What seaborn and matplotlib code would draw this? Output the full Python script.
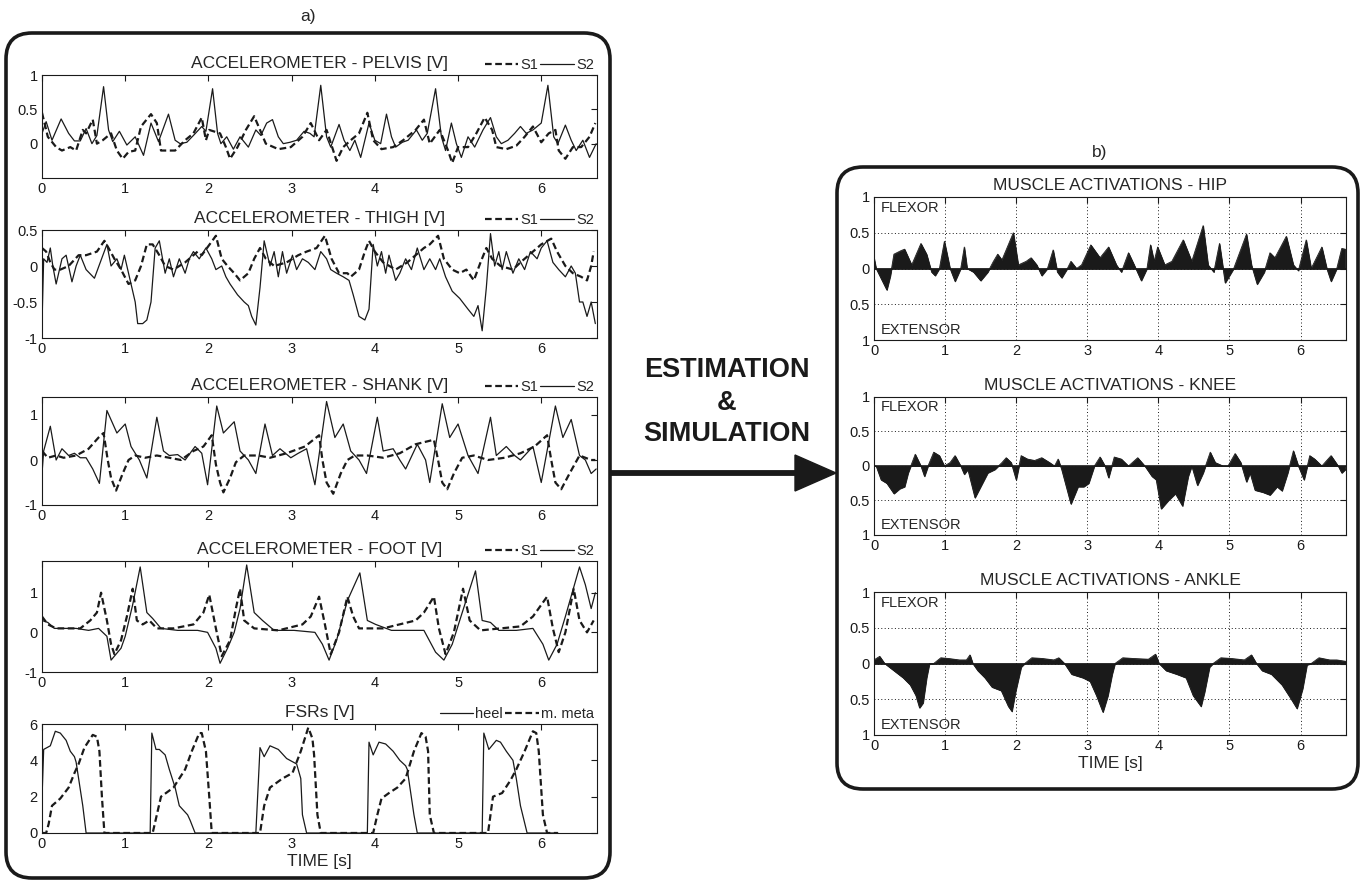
import numpy as np
import pandas as pd
import matplotlib
matplotlib.use("Agg")
import matplotlib.pyplot as plt
import seaborn as sns
from matplotlib.patches import FancyBboxPatch, Polygon
from matplotlib.lines import Line2D
from matplotlib.transforms import IdentityTransform

sns.set_theme(style="white")
plt.rcParams['font.family'] = ['Liberation Sans', 'DejaVu Sans']

# ---------------- data (time [s], value) ----------------
pelvis_s1 = [(0.0,0.45),(0.07,0.1),(0.17,-0.05),(0.24,-0.1),(0.34,-0.05),(0.41,-0.1),(0.49,0.2),(0.53,0.15),
             (0.61,0.35),(0.66,0.0),(0.73,0.05),(0.83,0.15),(0.9,-0.1),(0.97,-0.22),(1.04,-0.12),(1.12,-0.1),
             (1.19,0.25),(1.31,0.43),(1.38,0.3),(1.43,-0.1),(1.5,-0.1),(1.6,-0.1),(1.72,0.05),(1.82,0.15),
             (1.92,0.38),(1.97,0.05),(2.01,0.2),(2.14,0.15),(2.21,-0.05),(2.26,-0.22),(2.35,-0.05),(2.45,0.2),
             (2.55,0.4),(2.62,0.2),(2.69,0.0),(2.84,-0.08),(2.99,-0.05),(3.13,0.1),(3.23,0.3),(3.33,0.05),
             (3.42,0.2),(3.5,-0.1),(3.54,-0.25),(3.62,-0.05),(3.71,0.05),(3.81,0.15),(3.91,0.45),(3.98,0.05),
             (4.08,-0.08),(4.22,-0.05),(4.34,0.05),(4.49,0.2),(4.59,0.35),(4.66,0.0),(4.78,0.2),(4.88,-0.1),
             (4.93,-0.28),(5.0,-0.05),(5.12,-0.05),(5.22,0.15),(5.32,0.38),(5.41,0.2),(5.46,-0.05),(5.58,-0.08),
             (5.7,-0.03),(5.8,0.1),(5.9,0.25),(6.0,0.02),(6.09,0.15),(6.17,0.2),(6.21,-0.1),(6.29,-0.22),
             (6.38,-0.05),(6.48,-0.05),(6.58,0.1),(6.65,0.3)]
pelvis_s2 = [(0.0,0.15),(0.05,0.32),(0.12,0.05),(0.23,0.36),(0.32,0.15),(0.39,0.04),(0.46,0.04),(0.53,0.22),
             (0.6,0.0),(0.66,0.12),(0.74,0.83),(0.8,0.2),(0.85,0.03),(0.93,0.18),(1.02,-0.02),(1.12,0.1),
             (1.22,-0.17),(1.31,0.3),(1.4,0.03),(1.52,0.43),(1.6,0.05),(1.66,0.0),(1.74,0.02),(1.82,0.12),
             (1.92,0.25),(1.97,0.18),(2.05,0.8),(2.11,0.15),(2.15,0.0),(2.22,0.1),(2.3,-0.08),(2.38,0.1),
             (2.48,-0.05),(2.57,0.2),(2.63,0.12),(2.7,0.3),(2.77,0.35),(2.84,0.1),(2.9,0.0),(2.98,0.02),
             (3.06,0.05),(3.15,0.18),(3.22,0.15),(3.27,0.1),(3.35,0.85),(3.42,0.1),(3.47,-0.05),(3.57,0.28),
             (3.63,0.05),(3.7,-0.1),(3.76,0.05),(3.83,-0.2),(3.93,0.3),(4.0,0.05),(4.07,0.0),(4.14,0.43),
             (4.2,0.1),(4.25,-0.05),(4.33,0.02),(4.4,0.05),(4.5,0.2),(4.57,0.05),(4.63,0.15),(4.73,0.8),
             (4.8,0.1),(4.85,-0.1),(4.92,0.3),(4.98,0.0),(5.04,-0.2),(5.12,0.1),(5.2,-0.05),(5.3,0.2),
             (5.39,0.38),(5.46,0.1),(5.52,0.0),(5.6,0.05),(5.68,0.15),(5.75,0.25),(5.82,0.15),(5.9,0.2),
             (6.0,0.3),(6.08,0.85),(6.15,0.1),(6.2,0.0),(6.29,0.27),(6.36,0.05),(6.42,-0.1),(6.5,0.05),
             (6.58,-0.2),(6.66,0.0)]
thigh_s1 = [(0.0,0.25),(0.05,0.2),(0.1,0.05),(0.15,-0.05),(0.22,-0.05),(0.32,0.0),(0.44,0.15),(0.53,0.15),
            (0.66,0.2),(0.75,0.35),(0.8,0.25),(0.87,0.1),(0.95,-0.05),(1.04,-0.25),(1.12,-0.2),(1.19,0.0),
            (1.26,0.3),(1.33,0.3),(1.41,0.15),(1.48,0.0),(1.58,-0.05),(1.72,0.05),(1.87,0.2),(1.92,0.15),
            (2.09,0.42),(2.16,0.1),(2.23,0.0),(2.31,-0.1),(2.38,-0.2),(2.48,-0.1),(2.55,0.1),(2.62,0.25),
            (2.69,0.1),(2.79,0.0),(2.94,0.05),(3.08,0.15),(3.18,0.2),(3.3,0.25),(3.4,0.42),(3.48,0.1),
            (3.57,-0.1),(3.67,-0.1),(3.71,-0.15),(3.81,-0.05),(3.88,0.2),(3.93,0.35),(4.0,0.2),(4.1,0.05),
            (4.25,-0.05),(4.39,0.05),(4.49,0.15),(4.59,0.25),(4.66,0.3),(4.76,0.42),(4.83,0.1),(4.93,-0.05),
            (5.02,-0.1),(5.1,-0.05),(5.19,-0.2),(5.27,0.05),(5.34,0.25),(5.41,0.1),(5.51,0.0),(5.66,-0.05),
            (5.75,0.05),(5.9,0.2),(6.0,0.3),(6.12,0.38),(6.19,0.2),(6.29,0.0),(6.38,-0.1),(6.48,-0.15),
            (6.55,-0.2),(6.6,0.0),(6.63,0.2)]
thigh_s2 = [(0.0,-0.8),(0.02,0.1),(0.06,0.05),(0.1,0.25),(0.13,0.0),(0.17,-0.25),(0.24,0.1),(0.29,0.15),
            (0.36,-0.22),(0.41,0.0),(0.46,0.15),(0.53,-0.05),(0.63,-0.17),(0.7,0.05),(0.78,0.3),(0.83,0.0),
            (0.9,0.1),(0.95,-0.05),(0.99,0.15),(1.04,-0.1),(1.12,-0.5),(1.15,-0.8),(1.21,-0.8),(1.26,-0.75),
            (1.31,-0.5),(1.36,0.25),(1.41,0.35),(1.48,-0.1),(1.53,0.1),(1.58,-0.15),(1.65,0.1),(1.72,-0.1),
            (1.77,0.1),(1.82,0.2),(1.89,0.1),(1.97,0.25),(2.04,0.1),(2.09,-0.05),(2.16,0.0),(2.21,-0.15),
            (2.26,-0.25),(2.35,-0.4),(2.43,-0.5),(2.48,-0.55),(2.52,-0.7),(2.57,-0.82),(2.62,-0.3),(2.67,0.35),
            (2.74,0.0),(2.79,0.2),(2.84,-0.15),(2.89,0.2),(2.94,-0.1),(3.01,0.15),(3.06,-0.05),(3.13,0.1),
            (3.2,0.05),(3.28,-0.05),(3.35,0.2),(3.42,0.1),(3.47,-0.05),(3.54,-0.1),(3.62,-0.15),(3.69,-0.2),
            (3.74,-0.4),(3.81,-0.7),(3.88,-0.75),(3.93,-0.6),(3.98,0.3),(4.03,0.0),(4.08,0.2),(4.13,-0.1),
            (4.17,0.15),(4.25,-0.2),(4.3,-0.1),(4.37,0.1),(4.44,-0.05),(4.51,0.25),(4.59,-0.05),(4.66,0.1),
            (4.73,-0.05),(4.78,0.1),(4.85,-0.15),(4.93,-0.35),(5.02,-0.45),(5.12,-0.6),(5.19,-0.7),(5.24,-0.55),
            (5.29,-0.9),(5.34,-0.3),(5.39,0.45),(5.44,0.0),(5.49,0.2),(5.53,-0.05),(5.58,0.2),(5.66,-0.1),
            (5.73,0.1),(5.8,-0.05),(5.87,0.2),(5.95,0.1),(6.0,0.25),(6.07,0.35),(6.14,0.05),(6.21,-0.05),
            (6.29,-0.15),(6.36,0.0),(6.41,-0.1),(6.46,-0.5),(6.5,-0.5),(6.55,-0.7),(6.6,-0.5),(6.65,-0.8)]
shank_s1 = [(0.0,0.2),(0.07,0.05),(0.17,0.1),(0.26,0.05),(0.41,0.1),(0.56,0.25),(0.68,0.5),(0.74,0.6),
            (0.79,0.0),(0.83,-0.4),(0.89,-0.68),(0.97,-0.3),(1.04,0.0),(1.12,0.1),(1.24,0.05),(1.38,0.1),
            (1.53,0.05),(1.67,0.0),(1.82,0.2),(1.94,0.3),(2.04,0.55),(2.09,-0.1),(2.14,-0.5),(2.18,-0.72),
            (2.26,-0.4),(2.33,-0.05),(2.43,0.1),(2.6,0.1),(2.74,0.05),(2.94,0.15),(3.16,0.3),(3.33,0.55),
            (3.37,0.0),(3.42,-0.5),(3.5,-0.75),(3.59,-0.3),(3.67,0.0),(3.76,0.1),(3.91,0.1),(4.1,0.05),
            (4.3,0.15),(4.49,0.35),(4.71,0.45),(4.76,0.0),(4.81,-0.5),(4.87,-0.65),(4.95,-0.3),(5.05,0.05),
            (5.19,0.1),(5.36,0.0),(5.56,0.05),(5.75,0.15),(5.92,0.3),(6.07,0.55),(6.12,0.0),(6.17,-0.5),
            (6.24,-0.65),(6.34,-0.3),(6.46,0.1),(6.53,0.05),(6.6,0.0),(6.65,0.0)]
shank_s2 = [(0.0,-0.3),(0.02,0.2),(0.1,0.75),(0.17,0.0),(0.24,0.25),(0.32,0.1),(0.39,0.15),(0.46,0.05),
            (0.53,0.05),(0.61,-0.2),(0.69,-0.52),(0.78,1.1),(0.9,0.6),(1.0,0.8),(1.07,0.3),(1.17,0.0),
            (1.26,-0.4),(1.38,0.95),(1.46,0.2),(1.53,0.1),(1.63,0.12),(1.72,0.0),(1.84,0.3),(1.92,0.15),
            (1.99,-0.55),(2.1,1.2),(2.18,0.6),(2.31,0.85),(2.38,0.2),(2.48,0.0),(2.57,-0.3),(2.68,0.8),
            (2.77,0.1),(2.86,0.25),(2.99,0.05),(3.08,0.15),(3.18,0.25),(3.28,-0.55),(3.42,1.3),(3.52,0.5),
            (3.62,0.8),(3.71,0.2),(3.81,0.0),(3.9,-0.3),(4.03,0.95),(4.1,0.2),(4.22,0.25),(4.3,0.0),
            (4.37,-0.2),(4.51,0.35),(4.61,0.0),(4.66,-0.5),(4.81,1.25),(4.9,0.5),(5.0,0.8),(5.12,0.1),
            (5.24,-0.3),(5.39,0.95),(5.46,0.1),(5.58,0.3),(5.68,0.1),(5.75,0.0),(5.9,0.3),(6.0,-0.5),
            (6.17,1.2),(6.26,0.5),(6.36,0.9),(6.46,0.1),(6.53,0.0),(6.6,-0.3),(6.66,-0.2)]
foot_s1 = [(0.0,0.4),(0.07,0.2),(0.17,0.1),(0.32,0.1),(0.46,0.1),(0.58,0.3),(0.66,0.5),(0.71,1.0),
           (0.78,0.3),(0.83,-0.3),(0.87,-0.55),(0.95,-0.2),(1.02,0.4),(1.09,1.1),(1.14,0.3),(1.21,0.2),
           (1.29,0.3),(1.38,0.1),(1.58,0.1),(1.82,0.2),(1.94,0.5),(2.01,0.95),(2.09,0.1),(2.16,-0.6),
           (2.26,-0.2),(2.33,0.6),(2.38,1.1),(2.43,0.3),(2.55,0.1),(2.84,0.05),(3.13,0.2),(3.23,0.4),
           (3.33,0.9),(3.4,0.2),(3.47,-0.55),(3.57,0.0),(3.67,0.9),(3.74,0.4),(3.81,0.1),(4.1,0.1),
           (4.49,0.3),(4.59,0.5),(4.71,0.9),(4.77,0.1),(4.85,-0.55),(4.95,0.0),(5.06,1.1),(5.14,0.3),
           (5.27,0.05),(5.51,0.1),(5.75,0.15),(5.9,0.4),(6.07,0.9),(6.14,0.1),(6.21,-0.5),(6.29,0.0),
           (6.39,1.1),(6.46,0.3),(6.55,0.0),(6.63,0.3)]
foot_s2 = [(0.0,0.3),(0.07,0.25),(0.15,0.1),(0.27,0.1),(0.41,0.1),(0.56,0.05),(0.68,0.1),(0.78,-0.1),
           (0.83,-0.7),(0.95,-0.4),(1.0,-0.1),(1.09,0.7),(1.18,1.65),(1.26,0.5),(1.33,0.35),(1.43,0.1),
           (1.63,0.05),(1.87,0.05),(1.99,0.0),(2.09,-0.4),(2.14,-0.78),(2.23,-0.4),(2.31,0.0),(2.38,0.6),
           (2.46,1.7),(2.55,0.5),(2.65,0.3),(2.79,0.05),(3.03,0.05),(3.28,0.0),(3.37,-0.3),(3.45,-0.7),
           (3.54,-0.2),(3.67,0.8),(3.82,1.5),(3.91,0.3),(4.01,0.2),(4.2,0.05),(4.44,0.05),(4.59,0.05),
           (4.73,-0.5),(4.83,-0.7),(4.93,-0.3),(5.02,0.3),(5.21,1.55),(5.29,0.3),(5.39,0.25),(5.49,0.05),
           (5.7,0.05),(5.9,0.1),(6.02,-0.3),(6.09,-0.7),(6.19,-0.3),(6.29,0.4),(6.46,1.65),(6.53,1.2),
           (6.6,0.6),(6.65,1.0)]
fsr_heel = [(0.0,1.9),(0.02,4.6),(0.1,4.8),(0.16,5.6),(0.22,5.5),(0.29,5.1),(0.34,4.5),(0.39,4.2),
            (0.41,3.9),(0.44,3.0),(0.49,1.5),(0.53,0.0),(1.3,0.0),(1.32,5.5),(1.37,4.6),(1.41,4.6),
            (1.48,4.3),(1.53,3.5),(1.6,2.5),(1.65,1.5),(1.75,1.0),(1.78,0.7),(1.84,0.0),(2.57,0.0),
            (2.62,4.7),(2.67,4.2),(2.74,4.8),(2.84,4.6),(2.94,4.1),(3.06,3.8),(3.11,3.0),(3.13,1.0),
            (3.18,0.0),(3.91,0.0),(3.93,5.0),(3.98,4.3),(4.05,5.0),(4.13,4.9),(4.22,4.5),(4.3,4.0),
            (4.37,3.7),(4.39,3.5),(4.47,1.0),(4.51,0.0),(5.29,0.0),(5.31,5.5),(5.37,4.6),(5.46,5.1),
            (5.51,5.0),(5.58,4.5),(5.66,4.0),(5.7,3.0),(5.75,1.5),(5.83,0.0),(6.2,0.0)]
fsr_meta = [(0.0,0.0),(0.05,0.0),(0.08,0.5),(0.12,1.5),(0.22,1.9),(0.32,2.5),(0.39,3.3),(0.44,3.8),
            (0.51,4.7),(0.61,5.4),(0.66,5.3),(0.69,4.5),(0.72,2.0),(0.75,0.0),(1.33,0.0),(1.38,1.0),
            (1.43,2.0),(1.58,2.5),(1.72,3.5),(1.8,4.5),(1.89,5.5),(1.92,5.5),(1.97,4.5),(2.01,2.0),
            (2.04,0.0),(2.62,0.0),(2.67,1.5),(2.74,2.5),(2.89,3.0),(3.01,3.3),(3.11,4.5),(3.2,5.8),
            (3.25,5.2),(3.27,4.3),(3.31,1.0),(3.35,0.0),(3.98,0.0),(4.03,1.0),(4.08,1.9),(4.17,2.2),
            (4.27,2.5),(4.37,3.0),(4.47,4.5),(4.56,5.5),(4.61,5.3),(4.64,4.5),(4.66,1.0),(4.71,0.0),
            (5.36,0.0),(5.42,2.0),(5.53,2.2),(5.63,2.9),(5.7,3.5),(5.8,4.5),(5.9,5.6),(5.94,5.5),
            (5.97,4.5),(6.02,1.0),(6.07,0.0),(6.2,0.0)]
hip_act = [(0.0,0.15),(0.03,0.0),(0.08,-0.1),(0.18,-0.3),(0.23,-0.1),(0.28,0.2),(0.38,0.25),(0.43,0.27),
           (0.53,0.05),(0.66,0.35),(0.74,0.2),(0.81,-0.05),(0.86,-0.1),(0.92,0.0),(0.99,0.38),(1.07,0.0),
           (1.14,-0.18),(1.22,0.0),(1.27,0.3),(1.31,0.0),(1.4,-0.05),(1.5,-0.17),(1.6,-0.05),(1.68,0.1),
           (1.74,0.2),(1.8,0.12),(1.96,0.5),(2.03,0.05),(2.14,0.1),(2.21,0.15),(2.29,0.05),(2.36,-0.1),
           (2.44,0.0),(2.52,0.26),(2.58,-0.05),(2.64,-0.13),(2.72,0.0),(2.77,0.1),(2.85,0.0),(2.92,0.05),
           (3.05,0.33),(3.18,0.15),(3.3,0.3),(3.41,0.05),(3.48,-0.05),(3.58,0.22),(3.66,0.05),(3.76,-0.17),
           (3.84,0.0),(3.89,0.33),(3.94,0.1),(3.99,0.3),(4.09,0.05),(4.19,0.1),(4.35,0.4),(4.47,0.1),
           (4.63,0.6),(4.7,0.05),(4.78,-0.05),(4.86,0.35),(4.94,-0.2),(5.06,0.0),(5.24,0.48),(5.31,0.05),
           (5.39,-0.22),(5.49,-0.05),(5.57,0.22),(5.64,0.15),(5.8,0.45),(5.9,0.05),(5.97,-0.03),(6.08,0.4),
           (6.15,0.0),(6.3,0.3),(6.37,0.0),(6.43,-0.18),(6.51,0.0),(6.58,0.28),(6.63,0.27)]
knee_act = [(0.0,0.0),(0.03,0.0),(0.1,-0.2),(0.18,-0.25),(0.28,-0.4),(0.36,-0.33),(0.43,-0.3),(0.48,-0.1),
            (0.58,0.17),(0.66,0.0),(0.71,-0.15),(0.76,0.0),(0.84,0.2),(0.92,0.15),(0.99,0.0),(1.07,0.05),
            (1.14,0.15),(1.22,0.0),(1.27,-0.12),(1.32,-0.05),(1.42,-0.46),(1.5,-0.3),(1.6,-0.1),(1.7,-0.05),
            (1.8,0.05),(1.86,0.12),(1.93,0.05),(2.0,-0.2),(2.07,0.15),(2.16,0.1),(2.26,0.08),(2.36,0.12),
            (2.47,0.05),(2.54,0.0),(2.59,0.1),(2.64,-0.05),(2.77,-0.55),(2.87,-0.3),(2.95,-0.3),(3.02,-0.25),
            (3.1,0.0),(3.18,0.13),(3.25,0.0),(3.3,-0.17),(3.38,0.13),(3.48,0.1),(3.58,0.0),(3.71,0.12),
            (3.81,0.0),(3.91,-0.15),(3.97,-0.2),(4.04,-0.62),(4.14,-0.5),(4.24,-0.4),(4.34,-0.58),(4.42,-0.15),
            (4.47,0.0),(4.55,-0.28),(4.63,-0.1),(4.73,0.2),(4.8,0.05),(4.91,0.0),(4.98,0.0),(5.08,0.18),
            (5.16,0.05),(5.24,-0.23),(5.29,-0.1),(5.36,-0.35),(5.47,-0.38),(5.57,-0.42),(5.67,-0.3),(5.74,-0.36),
            (5.82,-0.1),(5.9,0.22),(5.97,0.0),(6.05,-0.2),(6.13,0.15),(6.2,0.1),(6.3,0.0),(6.43,0.15),
            (6.53,0.0),(6.58,-0.1),(6.63,-0.05)]
ankle_act = [(0.0,0.05),(0.08,0.1),(0.15,0.0),(0.28,-0.1),(0.41,-0.2),(0.51,-0.3),(0.59,-0.45),(0.64,-0.62),
             (0.69,-0.55),(0.74,-0.2),(0.78,0.0),(0.84,0.0),(0.94,0.08),(1.05,0.07),(1.2,0.05),(1.3,0.05),
             (1.35,0.12),(1.39,0.0),(1.46,-0.1),(1.56,-0.2),(1.66,-0.33),(1.79,-0.38),(1.89,-0.6),(1.94,-0.67),
             (1.99,-0.4),(2.07,-0.05),(2.12,0.0),(2.22,0.08),(2.37,0.07),(2.53,0.05),(2.6,0.08),(2.68,0.0),
             (2.78,-0.15),(2.94,-0.2),(3.04,-0.25),(3.13,-0.45),(3.22,-0.68),(3.29,-0.45),(3.35,-0.15),(3.39,0.0),
             (3.5,0.08),(3.65,0.07),(3.86,0.06),(3.96,0.13),(4.01,0.0),(4.11,-0.1),(4.26,-0.15),(4.39,-0.2),
             (4.49,-0.45),(4.6,-0.6),(4.65,-0.4),(4.72,-0.05),(4.77,0.0),(4.88,0.08),(5.03,0.07),(5.21,0.05),
             (5.31,0.12),(5.38,0.0),(5.46,-0.1),(5.59,-0.15),(5.74,-0.3),(5.87,-0.5),(5.95,-0.63),(6.03,-0.35),
             (6.09,-0.02),(6.15,0.0),(6.26,0.08),(6.41,0.05),(6.51,0.05),(6.64,0.03)]

accel_titles = ["ACCELEROMETER - PELVIS [V]", "ACCELEROMETER - THIGH [V]",
                "ACCELEROMETER - SHANK [V]", "ACCELEROMETER - FOOT [V]"]
muscle_titles = ["MUSCLE ACTIVATIONS - HIP", "MUSCLE ACTIVATIONS - KNEE", "MUSCLE ACTIVATIONS - ANKLE"]
time_ticks = [0, 1, 2, 3, 4, 5, 6]
accel_yticks = [[0, 0.5, 1], [-1, -0.5, 0, 0.5], [-1, 0, 1], [-1, 0, 1]]
accel_ylabels = [["0", "0.5", "1"], ["-1", "-0.5", "0", "0.5"], ["-1", "0", "1"], ["-1", "0", "1"]]
accel_ylims = [(-0.5, 1), (-1, 0.5), (-1, 1.4), (-1, 1.8)]
fsr_yticks = [0, 2, 4, 6]
muscle_yticks = [-1, -0.5, 0, 0.5, 1]
muscle_ylabels = ["1", "0.5", "0", "0.5", "1"]

# ---------------- figure ----------------
W, H = 1366, 881
fig = plt.figure(figsize=(W / 100, H / 100), dpi=100)
fig.patch.set_facecolor("white")

FS_TICK = 10.5
FS_TITLE = 12.5
SOLID = dict(color="k", lw=0.9)
DASHED = dict(color="k", lw=1.6, linestyle=(0, (3, 1.6)))


def px_axes(x0, y0, x1, y1):
    return fig.add_axes([x0 / W, 1 - y1 / H, (x1 - x0) / W, (y1 - y0) / H])


def style_axes(ax):
    ax.set_facecolor("white")
    for s in ax.spines.values():
        s.set_color("k")
        s.set_linewidth(0.8)
        s.set_visible(True)
    ax.tick_params(direction="in", length=4, width=0.8, top=True, right=True,
                   labelsize=FS_TICK, colors="k", pad=3)
    ax.set_xlabel("")
    ax.set_ylabel("")


def line(ax, pts, kw):
    df = pd.DataFrame(pts, columns=["t", "v"])
    sns.lineplot(data=df, x="t", y="v", ax=ax, estimator=None, sort=False, legend=False, **kw)


left_rows = [(75, 178), (230, 338), (397, 505), (561, 672)]
series = [(pelvis_s1, pelvis_s2), (thigh_s1, thigh_s2), (shank_s1, shank_s2), (foot_s1, foot_s2)]
LX0, LX1 = 42, 597
for i, ((y0, y1), (s1, s2)) in enumerate(zip(left_rows, series)):
    ax = px_axes(LX0, y0, LX1, y1)
    line(ax, s2, SOLID)
    line(ax, s1, DASHED)
    ax.set_xlim(0, 6.67)
    ax.set_ylim(*accel_ylims[i])
    ax.set_xticks(time_ticks)
    ax.set_xticklabels([str(t) for t in time_ticks])
    ax.set_yticks(accel_yticks[i])
    ax.set_yticklabels(accel_ylabels[i])
    style_axes(ax)
    ax.set_title(accel_titles[i], fontsize=FS_TITLE, pad=5)
    handles = [Line2D([], [], **DASHED), Line2D([], [], **SOLID)]
    ax.legend(handles, ["S1", "S2"], loc="lower right", bbox_to_anchor=(1.0, 1.0), ncol=2,
              frameon=False, fontsize=FS_TICK, handlelength=2.3, handletextpad=0.15,
              columnspacing=0.15, borderaxespad=0.1, borderpad=0.1)

# FSR
ax = px_axes(LX0, 724, LX1, 833)
line(ax, fsr_heel, SOLID)
line(ax, fsr_meta, DASHED)
ax.set_xlim(0, 6.67)
ax.set_ylim(0, 6)
ax.set_xticks(time_ticks)
ax.set_xticklabels([str(t) for t in time_ticks])
ax.set_yticks(fsr_yticks)
ax.set_yticklabels([str(v) for v in fsr_yticks])
style_axes(ax)
ax.set_title("FSRs [V]", fontsize=FS_TITLE, pad=5)
ax.set_xlabel("TIME [s]", fontsize=FS_TITLE, labelpad=2)
handles = [Line2D([], [], **SOLID), Line2D([], [], **DASHED)]
ax.legend(handles, ["heel", "m. meta"], loc="lower right", bbox_to_anchor=(1.0, 1.0), ncol=2,
          frameon=False, fontsize=FS_TICK, handlelength=2.3, handletextpad=0.15,
          columnspacing=0.15, borderaxespad=0.1, borderpad=0.1)

# Muscle activations
right_rows = [(197, 340), (397, 535), (592, 735)]
acts = [hip_act, knee_act, ankle_act]
RX0, RX1 = 874, 1346
for i, ((y0, y1), act) in enumerate(zip(right_rows, acts)):
    ax = px_axes(RX0, y0, RX1, y1)
    df = pd.DataFrame(act, columns=["t", "v"])
    ax.fill_between(df["t"], 0, df["v"], color="k", lw=0.6, edgecolor="k")
    sns.lineplot(data=df, x="t", y="v", ax=ax, estimator=None, sort=False, legend=False,
                 color="k", lw=0.6)
    ax.axhline(0, color="k", lw=1.2)
    ax.set_xlim(0, 6.64)
    ax.set_ylim(-1, 1)
    ax.set_xticks(time_ticks)
    ax.set_xticklabels([str(t) for t in time_ticks])
    ax.set_yticks(muscle_yticks)
    ax.set_yticklabels(muscle_ylabels)
    style_axes(ax)
    ax.grid(True, linestyle=(0, (1, 2.5)), color="k", lw=0.7)
    ax.set_axisbelow(True)
    ax.set_title(muscle_titles[i], fontsize=FS_TITLE, pad=5)
    ax.text(0.015, 0.975, "FLEXOR", transform=ax.transAxes, ha="left", va="top", fontsize=10.5)
    ax.text(0.015, 0.02, "EXTENSOR", transform=ax.transAxes, ha="left", va="bottom", fontsize=10.5)
    if i == 2:
        ax.set_xlabel("TIME [s]", fontsize=FS_TITLE, labelpad=2)

# rounded frames
for (x0, y0, x1, y1) in [(6, 33, 610, 878), (837, 167, 1358, 789)]:
    box = FancyBboxPatch((x0, H - y1), x1 - x0, y1 - y0,
                         boxstyle="round,pad=0,rounding_size=26",
                         transform=IdentityTransform(), fill=False, lw=2.6, ec="k")
    fig.add_artist(box)

fig.text(308 / W, 1 - 16 / H, "a)", ha="center", va="center", fontsize=12.5)
fig.text(1100 / W, 1 - 152 / H, "b)", ha="center", va="center", fontsize=12.5)

# arrow
ya = H - 473
fig.add_artist(Line2D([611, 800], [ya, ya], transform=IdentityTransform(), color="k", lw=4.2,
                      solid_capstyle="butt"))
fig.add_artist(Polygon([[795, ya + 18], [836, ya], [795, ya - 18]], closed=True,
                       transform=IdentityTransform(), color="k"))
for txt, yy in [("ESTIMATION", 370), ("&", 403), ("SIMULATION", 434)]:
    fig.text(727 / W, 1 - yy / H, txt, ha="center", va="center", fontsize=19.5,
             fontweight="bold", color="#1a1a1a")

fig.savefig("out.png", dpi=100)
